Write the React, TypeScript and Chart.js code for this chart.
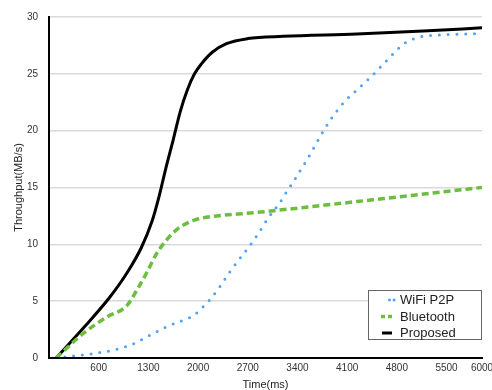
import React, { useEffect, useRef } from "react";
import { Chart, registerables } from "chart.js";

Chart.register(...registerables);

// ---- data ----
const xTickValues = [600, 1300, 2000, 2700, 3400, 4100, 4800, 5500, 6000];
const yTickStep = 5;
const xTitle = "Time(ms)";
const yTitle = "Throughput(MB/s)";
const seriesNames = ["WiFi P2P", "Bluetooth", "Proposed"];

const wifiTime = [0, 480, 850, 1110, 1320, 1560, 1820, 1930, 2070, 2170, 2310, 2450, 2570, 2720, 2860, 2990, 3145, 3270, 3340, 3550, 3740, 3870, 4070, 4260, 4430, 4570, 4740, 4910, 5100, 5360, 6000];
const wifiThroughput = [0, 0.35, 0.76, 1.3, 2.0, 2.75, 3.4, 3.7, 4.5, 5.15, 6.3, 7.6, 8.6, 9.8, 11.05, 12.35, 13.6, 14.85, 15.5, 17.6, 19.7, 21.0, 22.6, 23.7, 24.7, 25.6, 26.7, 27.7, 28.2, 28.4, 28.55];

const btTime = [0, 383, 713, 995, 1136, 1276, 1417, 1558, 1699, 1933, 2263, 2732, 3577, 4235, 6000];
const btThroughput = [0, 2.16, 3.6, 4.6, 5.95, 7.5, 9.2, 10.4, 11.3, 12.1, 12.5, 12.75, 13.3, 13.76, 15.0];

const propTime = [0, 400, 750, 1000, 1200, 1350, 1450, 1550, 1650, 1750, 1850, 1950, 2050, 2200, 2400, 2700, 3200, 4235, 5173, 6000];
const propThroughput = [0, 2.75, 5.3, 7.5, 9.7, 12.0, 14.2, 16.8, 19.2, 21.7, 23.6, 25.0, 25.9, 26.9, 27.65, 28.1, 28.3, 28.5, 28.76, 29.05];

const FONT = "'Liberation Sans', Arial, sans-serif";

const toPoints = (xs: number[], ys: number[]) => xs.map((x, i) => ({ x, y: ys[i] }));

const legendPlugin = {
  id: "boxLegend",
  afterDraw(chart: any) {
    const { ctx, chartArea } = chart;
    const w = 114;
    const h = 50;
    const x0 = chartArea.right - w;
    const y0 = chartArea.bottom - 18 - h;
    ctx.save();
    ctx.fillStyle = "#ffffff";
    ctx.fillRect(x0, y0, w, h);
    ctx.strokeStyle = "#666666";
    ctx.lineWidth = 1;
    ctx.setLineDash([]);
    ctx.strokeRect(x0 + 0.5, y0 + 0.5, w - 1, h - 1);
    const samples = [
      { dash: [0, 4.6], cap: "round", width: 3, from: 21.5, to: 26.2 },
      { dash: [4, 3], cap: "butt", width: 3.5, from: 13, to: 25 },
      { dash: [], cap: "butt", width: 3, from: 14, to: 24 },
    ];
    chart.data.datasets.forEach((ds: any, i: number) => {
      const y = y0 + 10 + i * 16.5;
      const s = samples[i];
      ctx.beginPath();
      ctx.setLineDash(s.dash);
      ctx.lineCap = s.cap;
      ctx.strokeStyle = ds.borderColor;
      ctx.lineWidth = s.width;
      ctx.moveTo(x0 + s.from, y);
      ctx.lineTo(x0 + s.to, y);
      ctx.stroke();
      ctx.setLineDash([]);
      ctx.fillStyle = "#222222";
      ctx.font = `13px ${FONT}`;
      ctx.textBaseline = "middle";
      ctx.textAlign = "left";
      ctx.fillText(ds.label, x0 + 32, y + 0.5);
    });
    ctx.restore();
  },
};

export default function App() {
  const ref = useRef<HTMLCanvasElement | null>(null);

  useEffect(() => {
    if (!ref.current) return;
    const chart = new Chart(ref.current, {
      type: "line",
      data: {
        datasets: [
          {
            label: seriesNames[0],
            data: toPoints(wifiTime, wifiThroughput),
            borderColor: "#4fa3f2",
            borderWidth: 3,
            borderDash: [0, 8.8],
            borderCapStyle: "round",
            pointRadius: 0,
            cubicInterpolationMode: "monotone",
            fill: false,
          },
          {
            label: seriesNames[1],
            data: toPoints(btTime, btThroughput),
            borderColor: "#6cbf3e",
            borderWidth: 3.5,
            borderDash: [7, 4],
            borderCapStyle: "butt",
            pointRadius: 0,
            cubicInterpolationMode: "monotone",
            fill: false,
          },
          {
            label: seriesNames[2],
            data: toPoints(propTime, propThroughput),
            borderColor: "#000000",
            borderWidth: 3,
            pointRadius: 0,
            cubicInterpolationMode: "monotone",
            fill: false,
          },
        ],
      },
      options: {
        animation: false,
        responsive: false,
        maintainAspectRatio: false,
        layout: { padding: { top: 15, right: 10, bottom: 0, left: 0 } },
        plugins: {
          legend: { display: false },
          tooltip: { enabled: false },
        },
        scales: {
          x: {
            type: "linear",
            min: -100,
            max: 6000,
            afterBuildTicks: (s: any) => {
              s.ticks = xTickValues.map((v) => ({ value: v }));
            },
            afterFit: (s: any) => {
              s.height = 32;
              s.paddingRight = 0;
            },
            grid: { display: false, drawTicks: false },
            border: { display: true, color: "#000000", width: 2, z: 1 },
            ticks: {
              autoSkip: false,
              maxRotation: 0,
              padding: 4,
              color: "#333333",
              font: { family: FONT, size: 10 },
              callback: (v: any) => String(v),
            },
            title: {
              display: true,
              text: xTitle,
              color: "#222222",
              font: { family: FONT, size: 11 },
              padding: { top: 0, bottom: -2 },
            },
          },
          y: {
            min: 0,
            max: 30,
            afterFit: (s: any) => {
              s.width = 49;
            },
            grid: {
              drawTicks: false,
              color: (c: any) => (c.tick && c.tick.value === 0 ? "rgba(0,0,0,0)" : "#dadada"),
              lineWidth: 1.5,
            },
            border: { display: true, color: "#000000", width: 2, z: 1 },
            ticks: {
              stepSize: yTickStep,
              padding: 11,
              color: "#333333",
              font: { family: FONT, size: 10 },
            },
            title: {
              display: true,
              text: yTitle,
              color: "#222222",
              font: { family: FONT, size: 11 },
              padding: { top: 12, bottom: 0 },
            },
          },
        },
      } as any,
      plugins: [legendPlugin],
    });
    return () => chart.destroy();
  }, []);

  return (
    <div style={{ position: "fixed", left: 0, top: 0, width: 492, height: 390, background: "#fff" }}>
      <canvas ref={ref} width={492} height={390} style={{ display: "block", width: 492, height: 390 }} />
    </div>
  );
}
